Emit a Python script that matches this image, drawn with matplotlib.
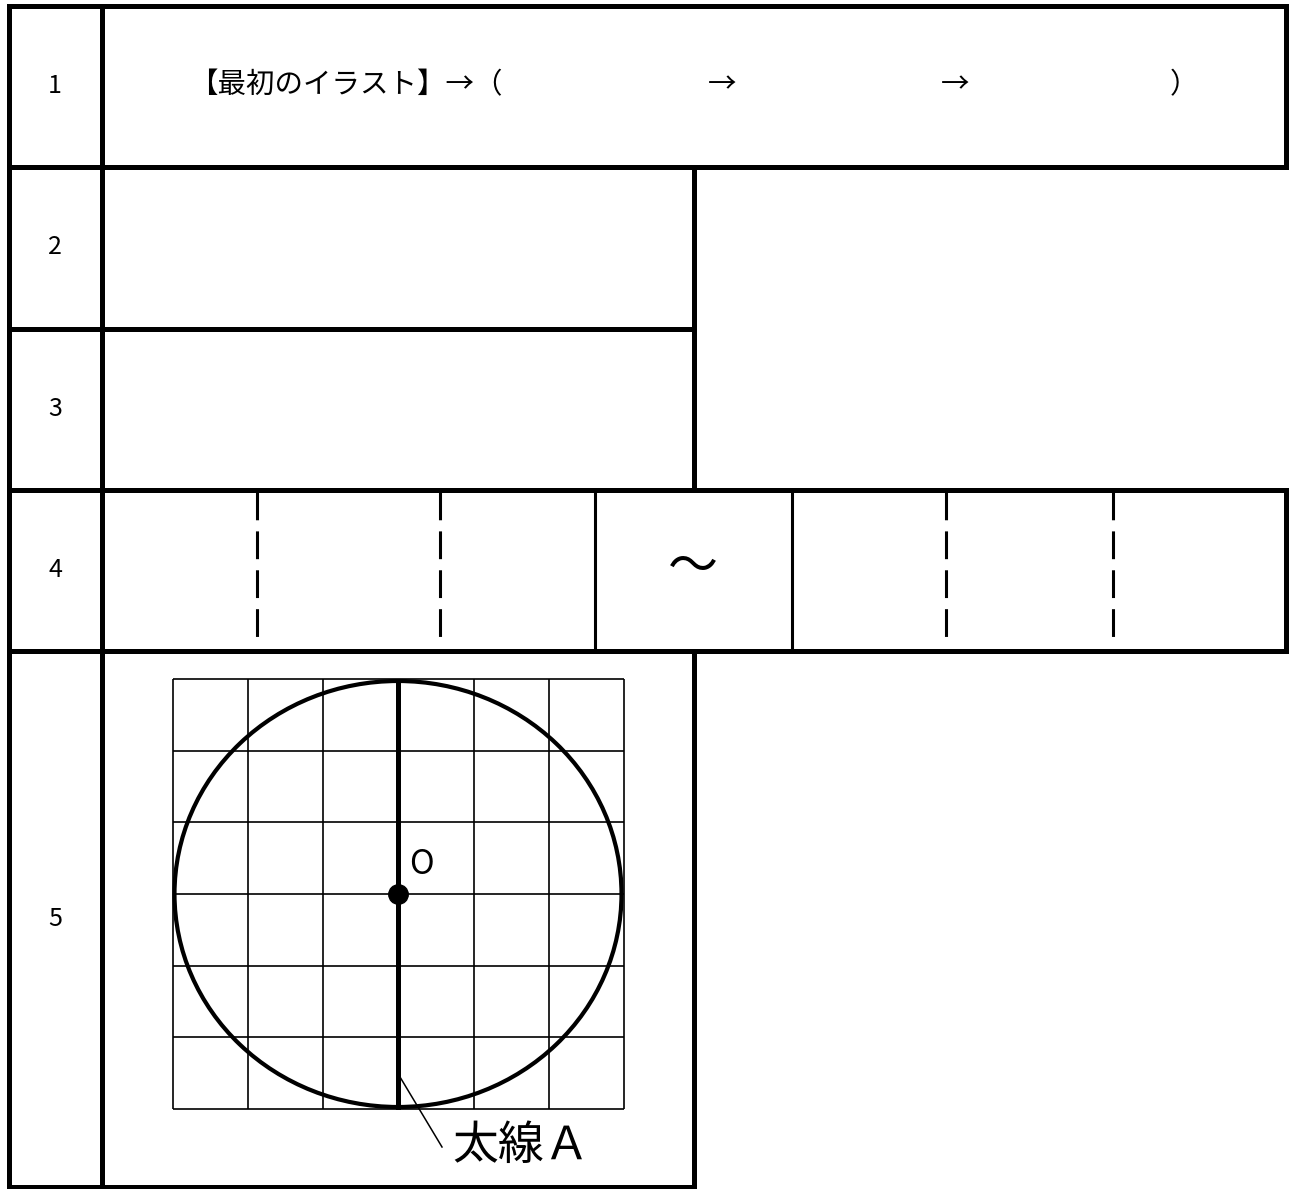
import numpy as np
import matplotlib
matplotlib.use("Agg")
import matplotlib.pyplot as plt
from matplotlib.patches import Ellipse

plt.rcParams['font.family'] = ['Noto Sans CJK JP', 'DejaVu Sans']
plt.rcParams['lines.scale_dashes'] = False

# ---- content ----
row_labels = ["1", "2", "3", "4", "5"]
row1_texts = ["【最初のイラスト】→（", "→", "→", "）"]
tilde_text = "〜"
center_label = "O"
line_label = "太線Ａ"
grid_cols = 6
grid_rows = 6

# ---- layout (pixel coords, y down) ----
W, H = 1290, 1189
X_LEFT, X_NUM, X_MID, X_RIGHT = 8.5, 101.5, 693.5, 1285.5
Y_ROWS = [5.5, 166.5, 328.5, 489.5, 650.5, 1187]
ROW4_SOLID = [594.5, 791.5]
ROW4_DASHED = [257, 440, 946, 1113]
row1_x = [189, 722, 955, 1170]
row1_ha = ["left", "center", "center", "left"]
GRID_X = (173, 624)
GRID_Y = (679, 1109)
CIRCLE_C = (398, 894)
CIRCLE_WH = (447, 426)

LW_THICK = 3.6
LW_THIN = 2.2
LW_GRID = 1.2

fig = plt.figure(figsize=(W / 100, H / 100), dpi=100)
ax = fig.add_axes([0, 0, 1, 1])
ax.set_xlim(0, W)
ax.set_ylim(H, 0)
ax.axis("off")


def thick(x0, y0, x1, y1, lw=LW_THICK):
    ax.plot([x0, x1], [y0, y1], color="k", lw=lw, solid_capstyle="projecting")


# outer frame and table rules
thick(X_LEFT, Y_ROWS[0], X_RIGHT, Y_ROWS[0])
thick(X_LEFT, Y_ROWS[0], X_LEFT, Y_ROWS[-1])
thick(X_NUM, Y_ROWS[0], X_NUM, Y_ROWS[-1])
thick(X_RIGHT, Y_ROWS[0], X_RIGHT, Y_ROWS[1])
thick(X_RIGHT, Y_ROWS[3], X_RIGHT, Y_ROWS[4])
thick(X_LEFT, Y_ROWS[1], X_RIGHT, Y_ROWS[1])
thick(X_LEFT, Y_ROWS[2], X_MID, Y_ROWS[2])
thick(X_LEFT, Y_ROWS[3], X_RIGHT, Y_ROWS[3])
thick(X_LEFT, Y_ROWS[4], X_RIGHT, Y_ROWS[4])
thick(X_LEFT, Y_ROWS[5], X_MID, Y_ROWS[5])
thick(X_MID, Y_ROWS[1], X_MID, Y_ROWS[3])
thick(X_MID, Y_ROWS[4], X_MID, Y_ROWS[5])

# row 4 inner lines
for x in ROW4_SOLID:
    ax.plot([x, x], [Y_ROWS[3], Y_ROWS[4]], color="k", lw=LW_THIN)
for x in ROW4_DASHED:
    ax.plot([x, x], [492, 637], color="k", lw=LW_THIN,
            linestyle=(0, (20, 8)), dash_capstyle="butt")

# row labels
for lab, y0, y1 in zip(row_labels, Y_ROWS[:-1], Y_ROWS[1:]):
    ax.text((X_LEFT + X_NUM) / 2, (y0 + y1) / 2, lab, ha="center", va="center",
            fontsize=18)

# row 1 text
for t, x, ha in zip(row1_texts, row1_x, row1_ha):
    ax.text(x, 85, t, ha=ha, va="center", fontsize=20.5)

# row 4 tilde
ax.text((ROW4_SOLID[0] + ROW4_SOLID[1]) / 2, 568, tilde_text, ha="center",
        va="center", fontsize=36)

# row 5 grid
gx = np.linspace(GRID_X[0], GRID_X[1], grid_cols + 1)
gy = np.linspace(GRID_Y[0], GRID_Y[1], grid_rows + 1)
ax.vlines(gx, GRID_Y[0], GRID_Y[1], color="k", lw=LW_GRID)
ax.hlines(gy, GRID_X[0], GRID_X[1], color="k", lw=LW_GRID)

# circle, diameter and centre
ax.add_patch(Ellipse(CIRCLE_C, CIRCLE_WH[0], CIRCLE_WH[1], fill=False,
                     edgecolor="k", lw=3.0))
ax.plot([CIRCLE_C[0], CIRCLE_C[0]],
        [CIRCLE_C[1] - CIRCLE_WH[1] / 2, CIRCLE_C[1] + CIRCLE_WH[1] / 2],
        color="k", lw=LW_THICK)
ax.plot(CIRCLE_C[0], CIRCLE_C[1], "o", color="k", ms=14)
ax.text(CIRCLE_C[0] + 23, CIRCLE_C[1] - 29, center_label, ha="center",
        va="center", fontsize=24)

# leader to label
ax.plot([400, 442], [1077, 1147], color="k", lw=1.1)
ax.text(452, 1146, line_label, ha="left", va="center", fontsize=33)

fig.savefig("out.png", dpi=100)
